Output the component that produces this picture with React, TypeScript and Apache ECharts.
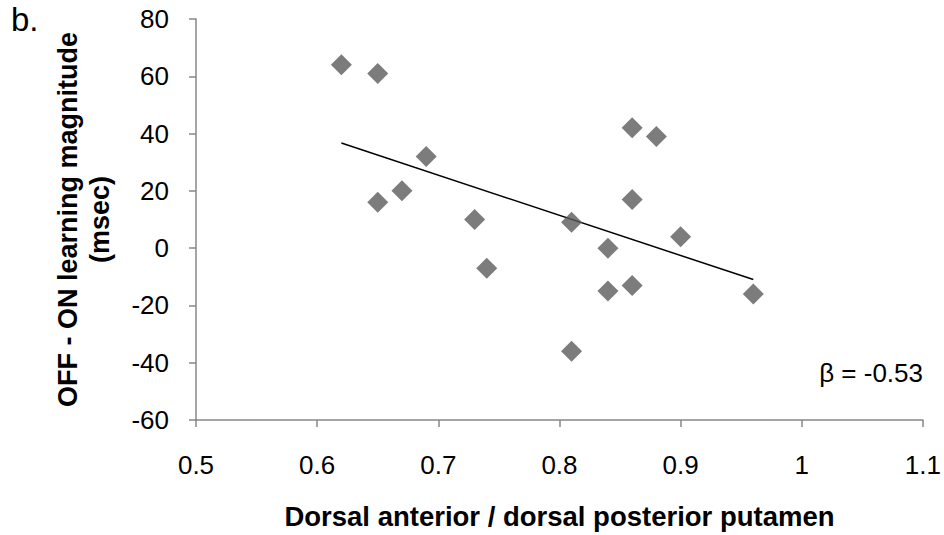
import React, { useEffect, useRef } from "react";
import * as echarts from "echarts";

const xValues = [0.62, 0.65, 0.65, 0.67, 0.69, 0.73, 0.74, 0.81, 0.81, 0.84, 0.84, 0.86, 0.86, 0.86, 0.88, 0.90, 0.96];
const yValues = [64, 61, 16, 20, 32, 10, -7, 9, -36, 0, -15, 42, 17, -13, 39, 4, -16];
const panelLabel = "b.";
const betaLabel = "β = -0.53";
const xAxisName = "Dorsal anterior / dorsal posterior putamen";
const yAxisName = "OFF - ON learning magnitude\n(msec)";

function regression(xs: number[], ys: number[]) {
  const n = xs.length;
  const mx = xs.reduce((a, b) => a + b, 0) / n;
  const my = ys.reduce((a, b) => a + b, 0) / n;
  let sxy = 0;
  let sxx = 0;
  for (let i = 0; i < n; i++) {
    sxy += (xs[i] - mx) * (ys[i] - my);
    sxx += (xs[i] - mx) * (xs[i] - mx);
  }
  const slope = sxy / sxx;
  const intercept = my - slope * mx;
  return { slope, intercept };
}

export default function App() {
  const ref = useRef<HTMLDivElement>(null);
  useEffect(() => {
    if (!ref.current) return;
    const chart = echarts.init(ref.current, null, { renderer: "svg" });
    const { slope, intercept } = regression(xValues, yValues);
    const xMin = Math.min(...xValues);
    const xMax = Math.max(...xValues);
    const trend = [
      [xMin, intercept + slope * xMin],
      [xMax, intercept + slope * xMax],
    ];
    const font = "Liberation Sans, Arial, sans-serif";
    const axisColor = "#878787";
    chart.setOption({
      animation: false,
      backgroundColor: "#ffffff",
      textStyle: { fontFamily: font },
      grid: { left: 196, right: 20, top: 19, bottom: 111, containLabel: false },
      xAxis: {
        type: "value",
        min: 0.5,
        max: 1.1,
        interval: 0.1,
        name: xAxisName,
        nameLocation: "middle",
        nameGap: 82,
        nameTextStyle: { fontFamily: font, fontSize: 27.5, fontWeight: "bold", color: "#000" },
        axisLine: { show: true, onZero: false, lineStyle: { color: axisColor, width: 1.5 } },
        axisTick: { show: true, length: 7, lineStyle: { color: axisColor, width: 1.5 } },
        axisLabel: {
          margin: 32,
          fontSize: 26,
          color: "#000",
          fontFamily: font,
          formatter: (v: number) => String(Math.round(v * 10) / 10),
        },
        splitLine: { show: false },
      },
      yAxis: {
        type: "value",
        min: -60,
        max: 80,
        interval: 20,
        name: yAxisName,
        nameLocation: "middle",
        nameRotate: 90,
        nameGap: 80,
        nameTextStyle: { fontFamily: font, fontSize: 27, fontWeight: "bold", color: "#000", lineHeight: 32 },
        axisLine: { show: true, onZero: false, lineStyle: { color: axisColor, width: 1.5 } },
        axisTick: { show: true, length: 7, lineStyle: { color: axisColor, width: 1.5 } },
        axisLabel: { margin: 27, fontSize: 26, color: "#000", fontFamily: font },
        splitLine: { show: false },
      },
      series: [
        {
          type: "scatter",
          data: xValues.map((x, i) => [x, yValues[i]]),
          symbol: "diamond",
          symbolSize: [21, 21],
          itemStyle: { color: "#5b5b5b" },
          z: 3,
        },
        {
          type: "line",
          data: trend,
          symbol: "none",
          lineStyle: { color: "#000", width: 1.5 },
          z: 2,
        },
      ],
      graphic: [
        {
          type: "text",
          left: 11,
          top: 3,
          style: { text: panelLabel, fontSize: 33, fill: "#000", fontFamily: font },
        },
        {
          type: "text",
          right: 21,
          top: 360,
          style: { text: betaLabel, fontSize: 26, fill: "#000", fontFamily: font },
        },
      ],
    });
    return () => chart.dispose();
  }, []);
  return (
    <div
      ref={ref}
      style={{ position: "absolute", left: 0, top: 0, width: 944, height: 535 }}
    />
  );
}
